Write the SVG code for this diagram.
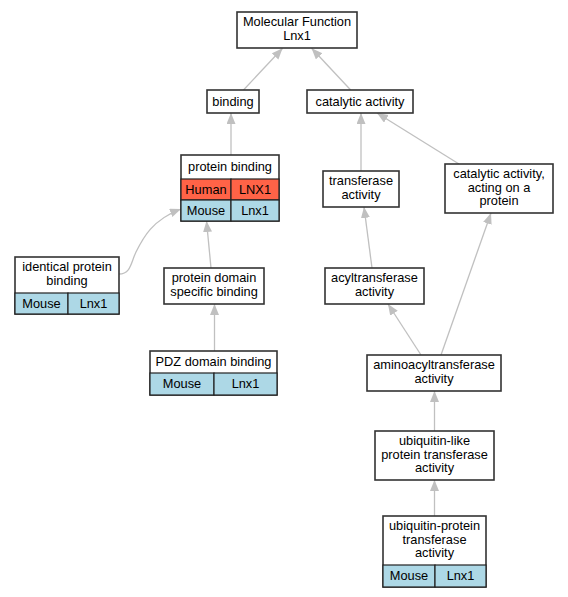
<svg xmlns="http://www.w3.org/2000/svg" width="568" height="597" viewBox="0 0 568 597">
<style>
text{font-family:"Liberation Sans",Arial,sans-serif;font-size:12.8px;fill:#000;text-anchor:middle}
.box{fill:#fff;stroke:#333;stroke-width:1.6}
.cell{stroke:#222;stroke-width:1.2}
.hu{fill:#ff6347}
.mo{fill:#add8e6}
.e{fill:none;stroke:#c0c0c0;stroke-width:1.3;marker-end:url(#ah)}
</style>
<defs>
<marker id="ah" markerUnits="userSpaceOnUse" markerWidth="12" markerHeight="10" refX="11" refY="4.5" orient="auto">
<path d="M0,0 L11,4.5 L0,9 z" fill="#c0c0c0"/>
</marker>
</defs>
<rect width="568" height="597" fill="#fff"/>
<g id="edges">
<path class="e" d="M243.5,90 L282.6,48.3"/>
<path class="e" d="M350.7,90 L311.6,48.3"/>
<path class="e" d="M231,155 L231,113"/>
<path class="e" d="M361,171 L361,113"/>
<path class="e" d="M459,164 L377,113"/>
<path class="e" d="M119,274 C131,274 131,262 136,252 C143,238 152,220 181,209"/>
<path class="e" d="M211,268 L206.5,221"/>
<path class="e" d="M214.5,351 L214.5,304"/>
<path class="e" d="M372,268 L364,207"/>
<path class="e" d="M421,355 L388,304"/>
<path class="e" d="M441,355 L491,213"/>
<path class="e" d="M434.5,431 L434.5,391"/>
<path class="e" d="M434.5,516 L434.5,480"/>
</g>
<g id="n_mf">
<rect class="box" x="237" y="12" width="120" height="36"/>
<text x="297" y="26">Molecular Function</text>
<text x="297" y="39.5">Lnx1</text>
</g>
<g id="n_binding">
<rect class="box" x="207" y="90" width="52" height="23"/>
<text x="233" y="106">binding</text>
</g>
<g id="n_catalytic">
<rect class="box" x="307" y="90" width="106" height="23"/>
<text x="360" y="106">catalytic activity</text>
</g>
<g id="n_protein_binding">
<rect class="box" x="181" y="155" width="98" height="66"/>
<text x="230" y="171">protein binding</text>
<rect class="cell hu" x="181" y="179" width="50" height="21"/>
<rect class="cell hu" x="231" y="179" width="48" height="21"/>
<rect class="cell mo" x="181" y="200" width="50" height="21"/>
<rect class="cell mo" x="231" y="200" width="48" height="21"/>
<text x="206" y="194">Human</text>
<text x="255" y="194">LNX1</text>
<text x="206" y="215">Mouse</text>
<text x="255" y="215">Lnx1</text>
</g>
<g id="n_transferase">
<rect class="box" x="323" y="171" width="76" height="36"/>
<text x="361" y="185">transferase</text>
<text x="361" y="198.5">activity</text>
</g>
<g id="n_acting">
<rect class="box" x="445" y="164" width="108" height="49"/>
<text x="499" y="178">catalytic activity,</text>
<text x="499" y="191.5">acting on a</text>
<text x="499" y="205">protein</text>
</g>
<g id="n_identical">
<rect class="box" x="15" y="257" width="104" height="57"/>
<text x="67" y="271">identical protein</text>
<text x="67" y="284.5">binding</text>
<rect class="cell mo" x="15" y="293" width="53" height="21"/>
<rect class="cell mo" x="68" y="293" width="51" height="21"/>
<text x="41.5" y="308">Mouse</text>
<text x="93.5" y="308">Lnx1</text>
</g>
<g id="n_pds">
<rect class="box" x="164" y="268" width="100" height="36"/>
<text x="214" y="282">protein domain</text>
<text x="214" y="295.5">specific binding</text>
</g>
<g id="n_acyl">
<rect class="box" x="325" y="268" width="99" height="36"/>
<text x="374.5" y="282">acyltransferase</text>
<text x="374.5" y="295.5">activity</text>
</g>
<g id="n_pdz">
<rect class="box" x="150" y="351" width="127" height="44"/>
<text x="213.5" y="366">PDZ domain binding</text>
<rect class="cell mo" x="150" y="373" width="64" height="22"/>
<rect class="cell mo" x="214" y="373" width="63" height="22"/>
<text x="182" y="388">Mouse</text>
<text x="245.5" y="388">Lnx1</text>
</g>
<g id="n_aminoacyl">
<rect class="box" x="367" y="355" width="134" height="36"/>
<text x="434" y="369">aminoacyltransferase</text>
<text x="434" y="382.5">activity</text>
</g>
<g id="n_ubl">
<rect class="box" x="375" y="431" width="119" height="49"/>
<text x="434.5" y="445">ubiquitin-like</text>
<text x="434.5" y="458.5">protein transferase</text>
<text x="434.5" y="472">activity</text>
</g>
<g id="n_ubp">
<rect class="box" x="383" y="516" width="103" height="71"/>
<text x="434.5" y="530">ubiquitin-protein</text>
<text x="434.5" y="543.5">transferase</text>
<text x="434.5" y="557">activity</text>
<rect class="cell mo" x="383" y="565" width="52" height="22"/>
<rect class="cell mo" x="435" y="565" width="51" height="22"/>
<text x="409" y="580">Mouse</text>
<text x="460.5" y="580">Lnx1</text>
</g>
</svg>
